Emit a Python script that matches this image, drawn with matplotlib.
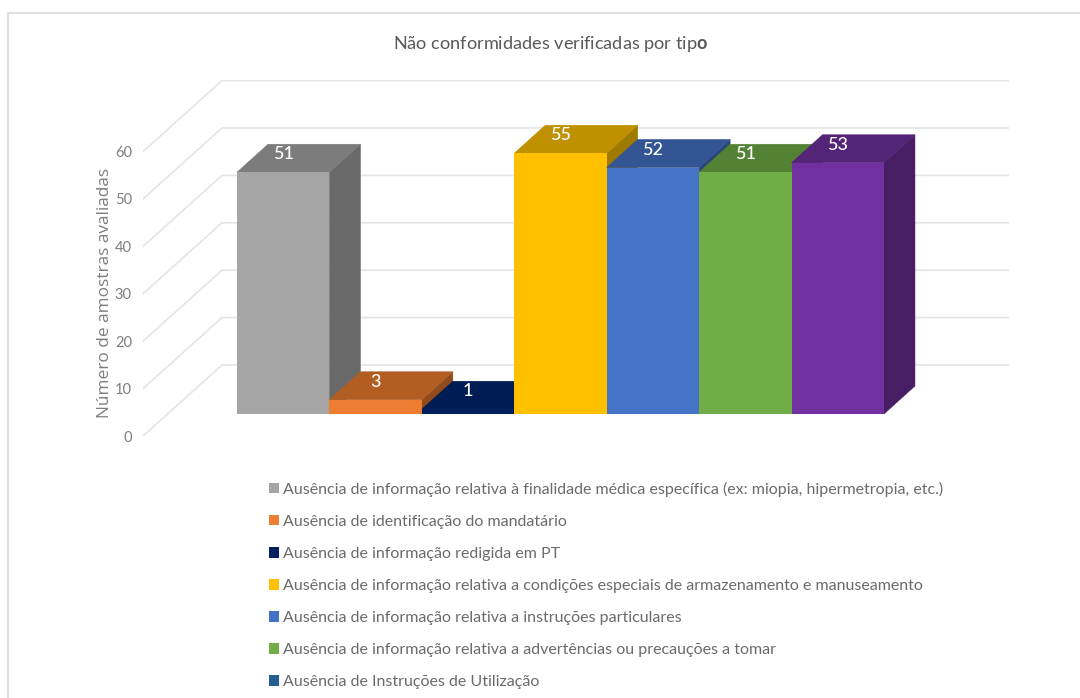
import matplotlib
matplotlib.use("Agg")
import matplotlib.pyplot as plt
from matplotlib.lines import Line2D
from matplotlib.patches import Patch, Polygon

plt.rcParams['font.family'] = ['Lato', 'DejaVu Sans']
plt.rcParams['mathtext.fontset'] = 'custom'
plt.rcParams['mathtext.bf'] = 'Lato:bold'

W, H = 1080, 698

values = [51, 3, 1, 55, 52, 51, 53]
front_colors = ['#A5A5A5', '#ED7D31', '#002060', '#FFC000', '#4472C4', '#70AD47', '#7030A0']
top_colors = ['#7C7C7C', '#B25E23', '#001C55', '#BF9000', '#335593', '#548235', '#542478']
side_colors = ['#696969', '#8F4B1C', '#00143C', '#9E7A00', '#2A4778', '#446C2C', '#471E64']

y_ticks = [0, 10, 20, 30, 40, 50, 60]

legend_labels = [
    "Ausência de informação relativa à finalidade médica específica (ex: miopia, hipermetropia, etc.)",
    "Ausência de identificação do mandatário",
    "Ausência de informação redigida em PT",
    "Ausência de informação relativa a condições especiais de armazenamento e manuseamento",
    "Ausência de informação relativa a instruções particulares",
    "Ausência de informação relativa a advertências ou precauções a tomar",
    "Ausência de Instruções de Utilização",
]
legend_colors = ['#A5A5A5', '#ED7D31', '#002060', '#FFC000', '#4472C4', '#70AD47', '#255E91']

# pixels per data unit, used to express the fake 3D depth in data units
PX_X = 92.43
PX_Y = 4.74
BAR_DX, BAR_DY = 31 / PX_X, 28 / PX_Y
WALL_DX, WALL_DY = 79 / PX_X, 71 / PX_Y
FLOOR = 22 / PX_Y
LABEL_UP = 18 / PX_Y

fig = plt.figure(figsize=(W / 100, H / 100), dpi=100)
ax = fig.add_axes([143 / W, 1 - 436 / H, 866 / W, 356 / H])
ax.set_xlim(-1.517, 7.853)
ax.set_ylim(0, 356 / PX_Y)

# back wall and left wall lines
for v in y_ticks:
    ax.plot([-1.517, -1.517 + WALL_DX, 7.853], [v, v + WALL_DY, v + WALL_DY],
            color='#e4e4e4', lw=1.2, zorder=1, solid_joinstyle='miter')

# front faces, then side and top, left to right so each bar covers the previous one
for i, v in enumerate(values):
    z = 2 + i
    x0, x1 = i - 0.5, i + 0.5
    y0, y1 = FLOOR, FLOOR + v
    ax.add_patch(Polygon([(x1, y0), (x1 + BAR_DX, y0 + BAR_DY), (x1 + BAR_DX, y1 + BAR_DY), (x1, y1)],
                         color=side_colors[i], lw=0.4, zorder=z))
    ax.add_patch(Polygon([(x0, y1), (x0 + BAR_DX, y1 + BAR_DY), (x1 + BAR_DX, y1 + BAR_DY), (x1, y1)],
                         color=top_colors[i], lw=0.4, zorder=z))
    ax.bar(i, v, width=1, bottom=FLOOR, color=front_colors[i], zorder=z)
    ax.text(i, y1 + LABEL_UP, str(v), color='white', fontsize=13, fontweight='medium',
            ha='center', va='center', zorder=20)

for s in ax.spines.values():
    s.set_visible(False)
ax.set_xticks([])
ax.set_yticks(y_ticks)
ax.tick_params(axis='y', length=0, pad=8, labelsize=10.5, labelcolor='#7f7f7f')

ax.set_ylabel("Número de amostras avaliadas", fontsize=12.4, color='#7f7f7f', family='Open Sans', va='center')
ax.yaxis.set_label_coords((105 - 143) / 866, (436 - 292.5) / 356)

ax.set_title(r"Não conformidades verificadas por tip$\mathbf{o}$", x=(551 - 143) / 866, pad=22,
             fontsize=13.05, color='#595959')

handles = [Patch(color=c, lw=0) for c in legend_colors]
fig.legend(handles, legend_labels, loc='upper left', bbox_to_anchor=(269 / W, 1 - 481.5 / H),
           frameon=False, fontsize=11.55, labelcolor='#6b6b6b', borderpad=0, borderaxespad=0,
           handlelength=0.65, handleheight=0.65, handletextpad=0.24, labelspacing=1.13)

# outer chart frame, cut off by the image on the right and bottom
fig.add_artist(Line2D([8 / W, 8 / W, 1], [0, 1 - 13 / H, 1 - 13 / H], color='#e0e0e0', lw=1.5))

fig.savefig("out.png", dpi=100)
